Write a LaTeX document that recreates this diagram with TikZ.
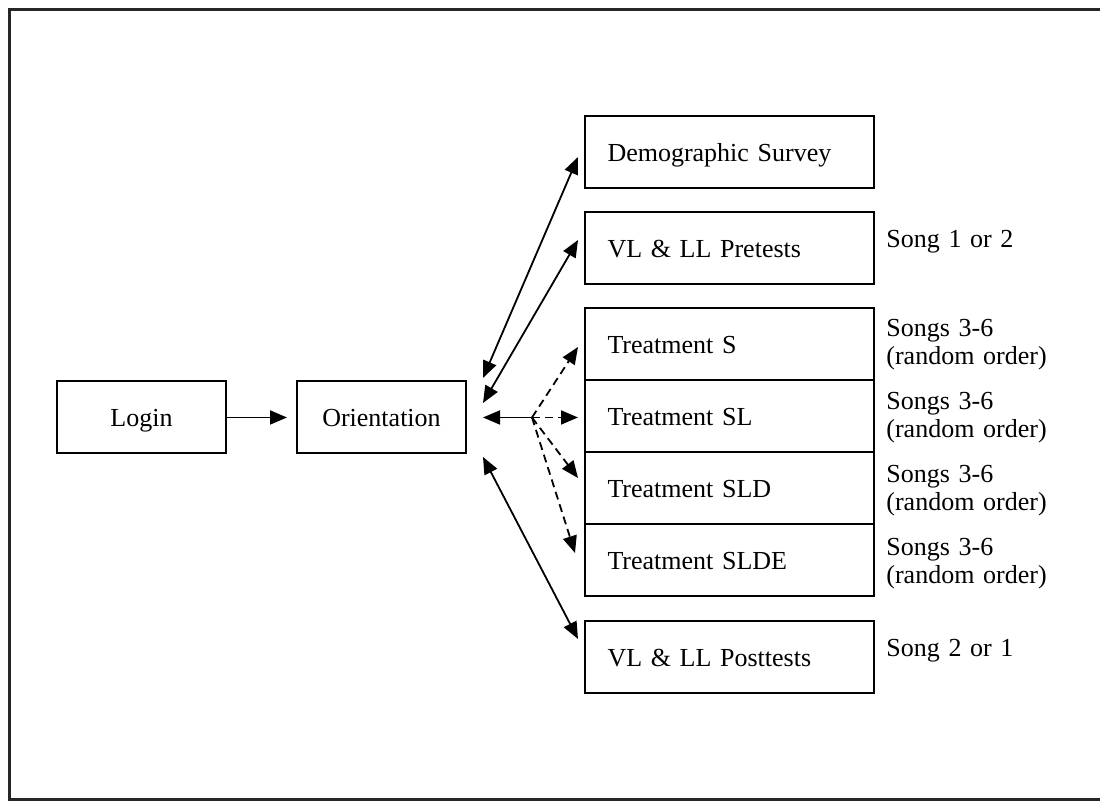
\documentclass[tikz,border=0pt]{standalone}
\usepackage{fontspec}
\setmainfont{Liberation Serif}
\usetikzlibrary{arrows.meta}
\begin{document}
\begin{tikzpicture}[x=0.5pt,y=-0.5pt,
  font=\fontsize{13}{14}\selectfont,
  box/.style={draw, line width=1pt, rectangle, inner sep=0pt,
    minimum height=36pt, text height=11.5pt, text depth=2pt},
  lbox/.style={box, minimum width=144.5pt, text width=122pt, align=left, inner xsep=11pt},
  sbox/.style={box, minimum width=84.5pt},
  side/.style={anchor=base west, inner sep=0pt, text width=95pt, align=left},
  tip/.tip={Triangle[length=8.5pt,width=7pt]},
  link/.style={line width=0.9pt, tip-tip},
  dlink/.style={line width=0.9pt, dash pattern=on 4pt off 2.5pt, -tip},
  hlink/.style={line width=0.9pt, tip-},
  flow/.style={line width=0.9pt, -tip},
]
\useasboundingbox (0,0) rectangle (1100,801);
\draw[line width=1.2pt, black!85] (1100,9.5) -- (9.5,9.5) -- (9.5,799.5) -- (1100,799.5);

% left boxes
\node[sbox] (login) at (141.5,417.5) {Login};
\node[sbox] (orient) at (381.5,417.5) {Orientation};

% right boxes
\node[lbox] (demo) at (729.5,152.5) {Demographic Survey};
\node[lbox] (pre)  at (729.5,248.5) {VL \& LL Pretests};
\node[lbox] (ts)   at (729.5,344) {Treatment S};
\node[lbox] (tsl)  at (729.5,416) {Treatment SL};
\node[lbox] (tsld) at (729.5,488) {Treatment SLD};
\node[lbox] (tslde) at (729.5,560) {Treatment SLDE};
\node[lbox] (post) at (729.5,657) {VL \& LL Posttests};

% side notes
\node[side] (n1) at (886,248) {Song 1 or 2};
\node[side] (n2) at (886,337) {Songs 3-6\\(random order)};
\node[side] (n3) at (886,410) {Songs 3-6\\(random order)};
\node[side] (n4) at (886,483) {Songs 3-6\\(random order)};
\node[side] (n5) at (886,556) {Songs 3-6\\(random order)};
\node[side] (n6) at (886,657) {Song 2 or 1};

% connector end points
\coordinate (lo) at (287,417.5);
\coordinate (demoA) at (483,378);
\coordinate (demoB) at (578,157);
\coordinate (preA) at (483,403);
\coordinate (preB) at (578,240);
\coordinate (hub) at (532,417.5);
\coordinate (hubL) at (483,417.5);
\coordinate (tsB) at (578,347);
\coordinate (tslB) at (578,417.5);
\coordinate (tsldB) at (578,478);
\coordinate (tsldeB) at (575,553);
\coordinate (postA) at (483,457);
\coordinate (postB) at (578,639);

\draw[flow] (login.east) -- (lo);
\draw[link] (demoA) -- (demoB);
\draw[link] (preA) -- (preB);
\draw[hlink] (hubL) -- (hub);
\draw[dlink] (hub) -- (tsB);
\draw[dlink] (hub) -- (tslB);
\draw[dlink] (hub) -- (tsldB);
\draw[dlink] (hub) -- (tsldeB);
\draw[link] (postA) -- (postB);
\end{tikzpicture}
\end{document}
